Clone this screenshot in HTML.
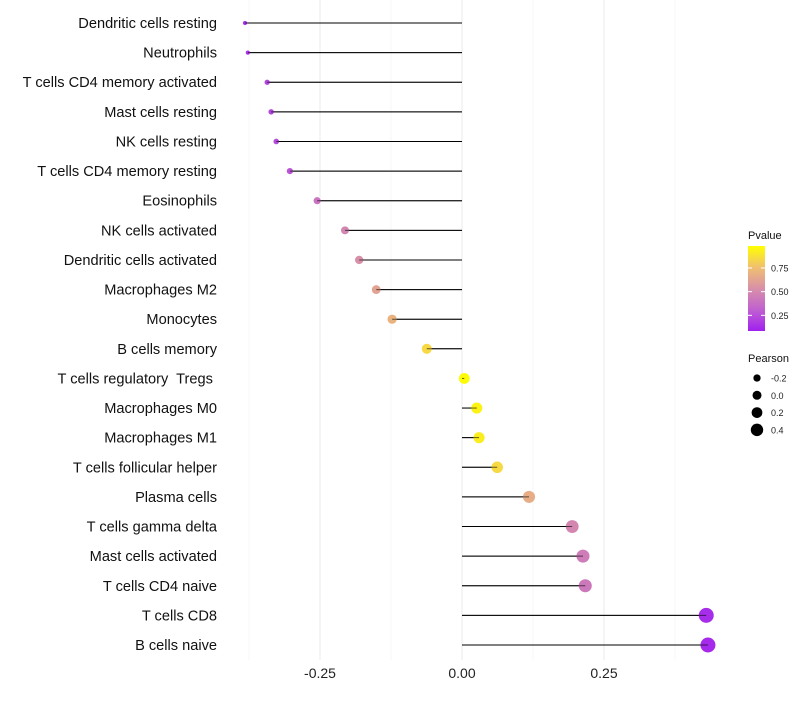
<!DOCTYPE html>
<html><head><meta charset="utf-8"><style>
body{margin:0;background:#fff;font-family:"Liberation Sans",sans-serif;}
text{white-space:pre;}
</style></head><body>
<svg id="c" width="800" height="700" xmlns="http://www.w3.org/2000/svg">
<defs><linearGradient id="pg" x1="0" y1="1" x2="0" y2="0">
<stop offset="0" stop-color="#a020f0"/><stop offset="0.25" stop-color="#c060d0"/><stop offset="0.5" stop-color="#d890a8"/><stop offset="0.75" stop-color="#f0c070"/><stop offset="1" stop-color="#ffff00"/>
</linearGradient></defs>
</svg>
<script>
const categories=["Dendritic cells resting","Neutrophils","T cells CD4 memory activated","Mast cells resting","NK cells resting","T cells CD4 memory resting","Eosinophils","NK cells activated","Dendritic cells activated","Macrophages M2","Monocytes","B cells memory","T cells regulatory  Tregs ","Macrophages M0","Macrophages M1","T cells follicular helper","Plasma cells","T cells gamma delta","Mast cells activated","T cells CD4 naive","T cells CD8","B cells naive"];
const pearson=[-0.382,-0.377,-0.343,-0.336,-0.327,-0.303,-0.255,-0.206,-0.181,-0.151,-0.123,-0.062,0.004,0.026,0.030,0.062,0.118,0.194,0.213,0.217,0.430,0.433];
const pvalue=[0.05,0.08,0.15,0.15,0.17,0.2,0.35,0.45,0.5,0.6,0.68,0.85,0.99,0.95,0.93,0.85,0.65,0.45,0.4,0.38,0.05,0.04];
const xTicks=[-0.25,0,0.25];
const xTickLabels=["-0.25","0.00","0.25"];
const minorTicks=[-0.375,-0.125,0.125,0.375];
const legendP=[0.25,0.5,0.75];
const legendS=[-0.2,0,0.2,0.4];
const NS="http://www.w3.org/2000/svg";
const svg=document.getElementById('c');
const x=v=>462+v*568;
const y=i=>23+i*(622/21);
const r=v=>Math.sqrt(Math.max(1,3.2+60*(v+0.38)))+0.3;
const lr=v=>4.5+4.3*v;
const stops=[[0,[160,32,240]],[0.25,[192,96,208]],[0.5,[216,144,168]],[0.75,[240,192,112]],[1,[255,255,0]]];
function col(p){for(let k=1;k<stops.length;k++){if(p<=stops[k][0]){const a=stops[k-1],b=stops[k],t=(p-a[0])/(b[0]-a[0]);return 'rgb('+a[1].map((c,j)=>Math.round(c+(b[1][j]-c)*t)).join(',')+')';}}return 'rgb(255,255,0)';}
function el(t,a,txt){const e=document.createElementNS(NS,t);for(const k in a)e.setAttribute(k,a[k]);if(txt!==undefined)e.textContent=txt;svg.appendChild(e);return e;}
minorTicks.forEach(v=>{const e=el('line',{x1:x(v),x2:x(v),y1:0,y2:660,stroke:'#f2f2f2','stroke-width':0.6});});
xTicks.forEach((v,i)=>{const e=el('line',{x1:x(v),x2:x(v),y1:0,y2:660,stroke:'#ebebeb','stroke-width':1});
const t=el('text',{x:x(v),y:678,'font-size':14,fill:'#222','text-anchor':'middle'},xTickLabels[i]);});
categories.forEach((c,i)=>{
const t=el('text',{x:217,y:y(i)+5,'font-size':14.6,fill:'#111','text-anchor':'end'},c);
const l=el('line',{x1:x(0),x2:x(pearson[i]),y1:y(i),y2:y(i),stroke:'#000','stroke-width':1});
const p=el('circle',{cx:x(pearson[i]),cy:y(i),r:r(pearson[i]),fill:col(pvalue[i])});
const d=el('line',{x1:x(0),x2:x(pearson[i]),y1:y(i),y2:y(i),stroke:'#000','stroke-width':1,opacity:0.6});
});
let t=el('text',{x:748,y:239,'font-size':11,fill:'#111'},'Pvalue');
const cb=el('rect',{x:748,y:246,width:17,height:85,fill:'url(#pg)'});
const py=p=>339-p*94.7;
legendP.forEach(p=>{const a=el('line',{x1:748,x2:752,y1:py(p),y2:py(p),stroke:'#fff'});
const b=el('line',{x1:761,x2:765,y1:py(p),y2:py(p),stroke:'#fff'});
const l=el('text',{x:771,y:py(p)+3.5,'font-size':9,fill:'#222'},p.toFixed(2));});
t=el('text',{x:748,y:362,'font-size':11,fill:'#111'},'Pearson');
legendS.forEach((s,i)=>{const yy=378+i*17.3;const c=el('circle',{cx:757,cy:yy,r:lr(s),fill:'#000'});
const l=el('text',{x:771,y:yy+3.5,'font-size':9,fill:'#222'},s.toFixed(1));});
</script>
</body></html>
